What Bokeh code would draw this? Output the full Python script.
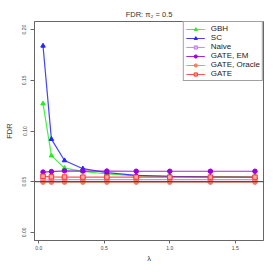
from bokeh.plotting import figure
from bokeh.models import Legend, LegendItem, Range1d, Title, Span
from bokeh.embed import file_html
from bokeh.resources import INLINE

lam = [0.033, 0.097, 0.197, 0.337, 0.52, 0.744, 1.0, 1.31, 1.65]
gbh = [0.127, 0.0757, 0.0634, 0.0602, 0.0576, 0.0557, 0.0553, 0.0550, 0.0547]
sc = [0.184, 0.092, 0.0709, 0.0628, 0.0589, 0.0563, 0.0553, 0.0547, 0.0544]
naive = [0.0515, 0.0518, 0.0520, 0.0520, 0.0520, 0.0520, 0.0520, 0.0520, 0.0520]
gate_em = [0.0595, 0.0600, 0.0607, 0.0605, 0.0605, 0.0603, 0.0603, 0.0603, 0.0603]
gate_oracle = [0.0495, 0.0495, 0.0495, 0.0495, 0.0495, 0.0495, 0.0495, 0.0495, 0.0495]
gate = [0.0553, 0.0548, 0.0546, 0.0545, 0.0545, 0.0545, 0.0545, 0.0545, 0.0545]
nominal = 0.05
x_ticks = [0.0, 0.5, 1.0, 1.5]
y_ticks = [0.0, 0.05, 0.10, 0.15, 0.20]

p = figure(width=265, height=265, output_backend="svg", toolbar_location=None,
           x_range=Range1d(-0.032, 1.715), y_range=Range1d(-0.008, 0.208),
           min_border_left=34, min_border_right=2, min_border_top=21, min_border_bottom=21)
p.title.visible = False
p.add_layout(Title(text="FDR: \u03c0\u2082 = 0.5", align="center", text_font_size="7.5px",
                   text_font="Liberation Sans", text_font_style="normal", text_color="#333333",
                   standoff=6), "above")
p.grid.visible = False
p.outline_line_color = "#666666"
p.outline_line_width = 1
p.background_fill_color = "white"

for ax in (p.xaxis[0], p.yaxis[0]):
    ax.axis_line_color = "#666666"
    ax.major_tick_line_color = "#666666"
    ax.minor_tick_line_color = None
    ax.major_tick_in = 0
    ax.major_label_text_font_size = "5px"
    ax.major_label_text_font = "Liberation Sans"
    ax.major_label_text_color = "#444444"
    ax.axis_label_text_font_size = "7.5px"
    ax.axis_label_text_font = "Liberation Sans"
    ax.axis_label_text_font_style = "normal"
    ax.axis_label_text_color = "#333333"

p.yaxis.major_tick_out = 4
p.yaxis.major_label_standoff = 4
p.yaxis.axis_label_standoff = 6
p.xaxis.major_tick_out = 3
p.xaxis.major_label_standoff = 2
p.xaxis.axis_label_standoff = 1

p.xaxis.ticker = x_ticks
p.xaxis.major_label_overrides = {0.0: "0.0", 0.5: "0.5", 1.0: "1.0", 1.5: "1.5"}
p.yaxis.ticker = y_ticks
p.yaxis.major_label_overrides = {0.0: "0.00", 0.05: "0.05", 0.1: "0.10", 0.15: "0.15", 0.2: "0.20"}
p.yaxis.major_label_orientation = "vertical"
p.xaxis.axis_label = "\u03bb"
p.yaxis.axis_label = "FDR"

p.add_layout(Span(location=nominal, dimension="width", line_color="#333333", line_width=1))

series = [
    ("GBH", gbh, "#22ee22", "triangle", "#22ee22"),
    ("SC", sc, "#2222ff", "triangle", "#2222ff"),
    ("Naive", naive, "#cc77ee", "square", "#e8b8f5"),
    ("GATE, EM", gate_em, "#9900dd", "circle", "#9900dd"),
    ("GATE, Oracle", gate_oracle, "#ff7755", "circle", "#ff7755"),
    ("GATE", gate, "#ff3333", "square", "#ffaaaa"),
]
items = []
for name, ys, col, mk, fill in series:
    r1 = p.line(lam, ys, line_color=col, line_width=1.2, line_alpha=0.85)
    r2 = p.scatter(lam, ys, marker=mk, size=4.5, line_color=col, fill_color=fill, line_width=1)
    items.append(LegendItem(label=name, renderers=[r1, r2]))

legend = Legend(items=items, location="top_right", margin=0, padding=2, spacing=0,
                label_text_font_size="8px", label_text_font="Liberation Sans",
                label_text_color="#222222", label_height=8, glyph_height=8, glyph_width=19,
                label_standoff=6, border_line_color="#444444", border_line_width=1,
                background_fill_alpha=1)
p.add_layout(legend, "center")

open("out.html", "w").write(file_html(p, INLINE))
